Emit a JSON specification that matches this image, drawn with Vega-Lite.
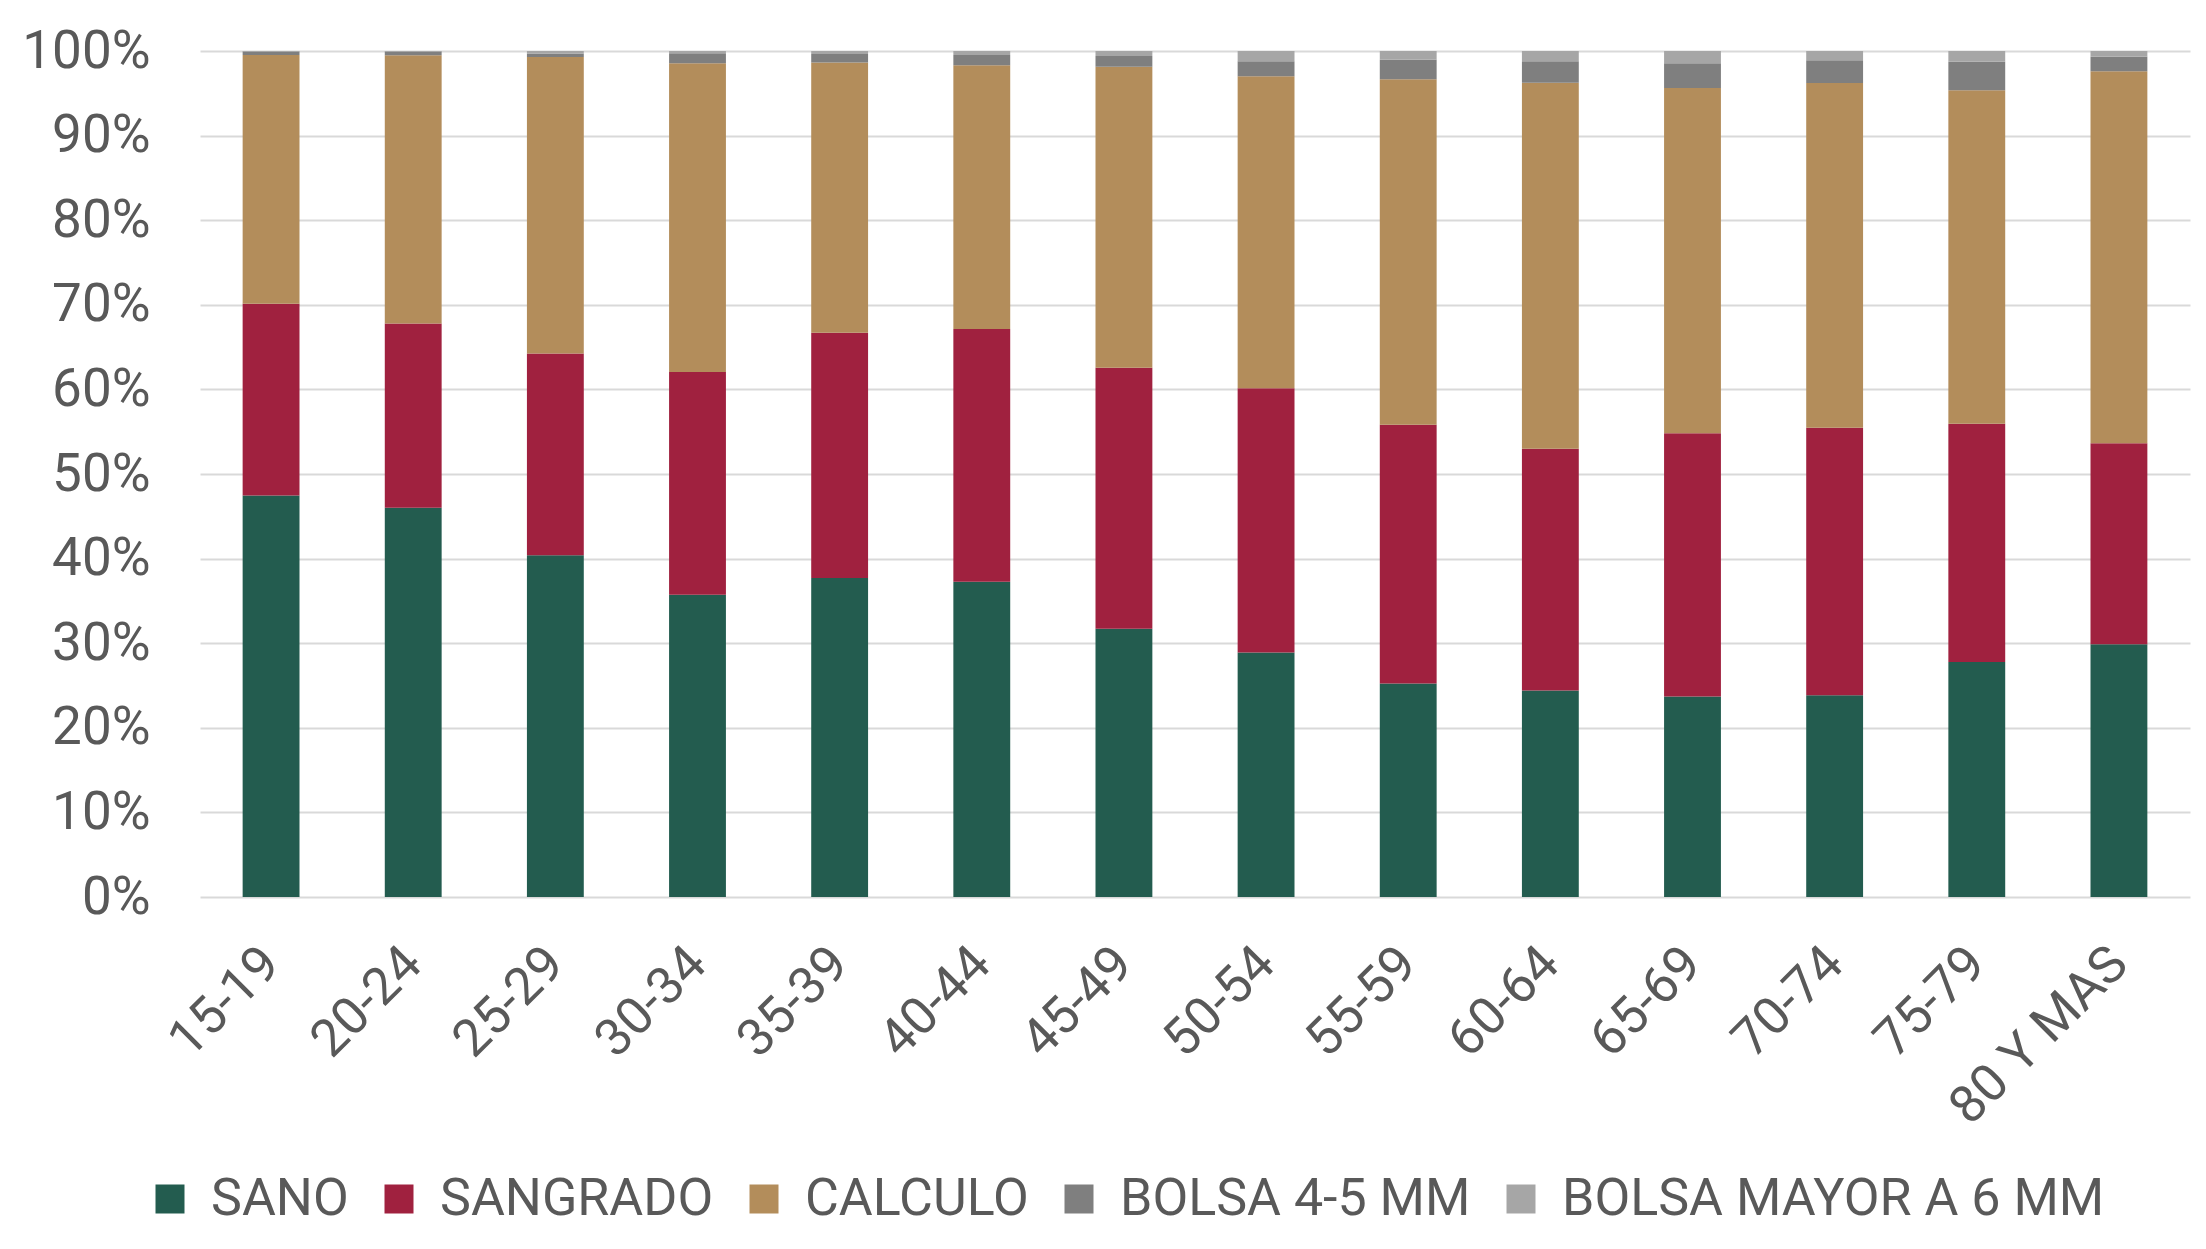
{
  "$schema": "https://vega.github.io/schema/vega-lite/v6.json",
  "width": 1990,
  "height": 846,
  "padding": {"left": 21, "top": 25, "right": 16, "bottom": 10},
  "background": "#ffffff",
  "data": {
    "values": [
      {"grupo": "15-19", "categoria": "SANO", "orden": 1, "valor": 47.45},
      {"grupo": "15-19", "categoria": "SANGRADO", "orden": 2, "valor": 22.68},
      {"grupo": "15-19", "categoria": "CALCULO", "orden": 3, "valor": 29.40},
      {"grupo": "15-19", "categoria": "BOLSA 4-5 MM", "orden": 4, "valor": 0.40},
      {"grupo": "15-19", "categoria": "BOLSA MAYOR A 6 MM", "orden": 5, "valor": 0.07},
      {"grupo": "20-24", "categoria": "SANO", "orden": 1, "valor": 46.0},
      {"grupo": "20-24", "categoria": "SANGRADO", "orden": 2, "valor": 21.8},
      {"grupo": "20-24", "categoria": "CALCULO", "orden": 3, "valor": 31.7},
      {"grupo": "20-24", "categoria": "BOLSA 4-5 MM", "orden": 4, "valor": 0.43},
      {"grupo": "20-24", "categoria": "BOLSA MAYOR A 6 MM", "orden": 5, "valor": 0.07},
      {"grupo": "25-29", "categoria": "SANO", "orden": 1, "valor": 40.4},
      {"grupo": "25-29", "categoria": "SANGRADO", "orden": 2, "valor": 23.85},
      {"grupo": "25-29", "categoria": "CALCULO", "orden": 3, "valor": 35.05},
      {"grupo": "25-29", "categoria": "BOLSA 4-5 MM", "orden": 4, "valor": 0.4},
      {"grupo": "25-29", "categoria": "BOLSA MAYOR A 6 MM", "orden": 5, "valor": 0.3},
      {"grupo": "30-34", "categoria": "SANO", "orden": 1, "valor": 35.73},
      {"grupo": "30-34", "categoria": "SANGRADO", "orden": 2, "valor": 26.33},
      {"grupo": "30-34", "categoria": "CALCULO", "orden": 3, "valor": 36.48},
      {"grupo": "30-34", "categoria": "BOLSA 4-5 MM", "orden": 4, "valor": 1.18},
      {"grupo": "30-34", "categoria": "BOLSA MAYOR A 6 MM", "orden": 5, "valor": 0.28},
      {"grupo": "35-39", "categoria": "SANO", "orden": 1, "valor": 37.70},
      {"grupo": "35-39", "categoria": "SANGRADO", "orden": 2, "valor": 29.0},
      {"grupo": "35-39", "categoria": "CALCULO", "orden": 3, "valor": 31.95},
      {"grupo": "35-39", "categoria": "BOLSA 4-5 MM", "orden": 4, "valor": 1.0},
      {"grupo": "35-39", "categoria": "BOLSA MAYOR A 6 MM", "orden": 5, "valor": 0.35},
      {"grupo": "40-44", "categoria": "SANO", "orden": 1, "valor": 37.26},
      {"grupo": "40-44", "categoria": "SANGRADO", "orden": 2, "valor": 29.88},
      {"grupo": "40-44", "categoria": "CALCULO", "orden": 3, "valor": 31.17},
      {"grupo": "40-44", "categoria": "BOLSA 4-5 MM", "orden": 4, "valor": 1.22},
      {"grupo": "40-44", "categoria": "BOLSA MAYOR A 6 MM", "orden": 5, "valor": 0.47},
      {"grupo": "45-49", "categoria": "SANO", "orden": 1, "valor": 31.72},
      {"grupo": "45-49", "categoria": "SANGRADO", "orden": 2, "valor": 30.85},
      {"grupo": "45-49", "categoria": "CALCULO", "orden": 3, "valor": 35.58},
      {"grupo": "45-49", "categoria": "BOLSA 4-5 MM", "orden": 4, "valor": 1.26},
      {"grupo": "45-49", "categoria": "BOLSA MAYOR A 6 MM", "orden": 5, "valor": 0.59},
      {"grupo": "50-54", "categoria": "SANO", "orden": 1, "valor": 28.89},
      {"grupo": "50-54", "categoria": "SANGRADO", "orden": 2, "valor": 31.24},
      {"grupo": "50-54", "categoria": "CALCULO", "orden": 3, "valor": 36.88},
      {"grupo": "50-54", "categoria": "BOLSA 4-5 MM", "orden": 4, "valor": 1.77},
      {"grupo": "50-54", "categoria": "BOLSA MAYOR A 6 MM", "orden": 5, "valor": 1.22},
      {"grupo": "55-59", "categoria": "SANO", "orden": 1, "valor": 25.24},
      {"grupo": "55-59", "categoria": "SANGRADO", "orden": 2, "valor": 30.59},
      {"grupo": "55-59", "categoria": "CALCULO", "orden": 3, "valor": 40.82},
      {"grupo": "55-59", "categoria": "BOLSA 4-5 MM", "orden": 4, "valor": 2.33},
      {"grupo": "55-59", "categoria": "BOLSA MAYOR A 6 MM", "orden": 5, "valor": 1.02},
      {"grupo": "60-64", "categoria": "SANO", "orden": 1, "valor": 24.41},
      {"grupo": "60-64", "categoria": "SANGRADO", "orden": 2, "valor": 28.58},
      {"grupo": "60-64", "categoria": "CALCULO", "orden": 3, "valor": 43.27},
      {"grupo": "60-64", "categoria": "BOLSA 4-5 MM", "orden": 4, "valor": 2.52},
      {"grupo": "60-64", "categoria": "BOLSA MAYOR A 6 MM", "orden": 5, "valor": 1.22},
      {"grupo": "65-69", "categoria": "SANO", "orden": 1, "valor": 23.70},
      {"grupo": "65-69", "categoria": "SANGRADO", "orden": 2, "valor": 31.11},
      {"grupo": "65-69", "categoria": "CALCULO", "orden": 3, "valor": 40.82},
      {"grupo": "65-69", "categoria": "BOLSA 4-5 MM", "orden": 4, "valor": 2.91},
      {"grupo": "65-69", "categoria": "BOLSA MAYOR A 6 MM", "orden": 5, "valor": 1.46},
      {"grupo": "70-74", "categoria": "SANO", "orden": 1, "valor": 23.86},
      {"grupo": "70-74", "categoria": "SANGRADO", "orden": 2, "valor": 31.62},
      {"grupo": "70-74", "categoria": "CALCULO", "orden": 3, "valor": 40.74},
      {"grupo": "70-74", "categoria": "BOLSA 4-5 MM", "orden": 4, "valor": 2.68},
      {"grupo": "70-74", "categoria": "BOLSA MAYOR A 6 MM", "orden": 5, "valor": 1.10},
      {"grupo": "75-79", "categoria": "SANO", "orden": 1, "valor": 27.79},
      {"grupo": "75-79", "categoria": "SANGRADO", "orden": 2, "valor": 28.16},
      {"grupo": "75-79", "categoria": "CALCULO", "orden": 3, "valor": 39.40},
      {"grupo": "75-79", "categoria": "BOLSA 4-5 MM", "orden": 4, "valor": 3.39},
      {"grupo": "75-79", "categoria": "BOLSA MAYOR A 6 MM", "orden": 5, "valor": 1.26},
      {"grupo": "80 Y MAS", "categoria": "SANO", "orden": 1, "valor": 29.87},
      {"grupo": "80 Y MAS", "categoria": "SANGRADO", "orden": 2, "valor": 23.75},
      {"grupo": "80 Y MAS", "categoria": "CALCULO", "orden": 3, "valor": 43.98},
      {"grupo": "80 Y MAS", "categoria": "BOLSA 4-5 MM", "orden": 4, "valor": 1.73},
      {"grupo": "80 Y MAS", "categoria": "BOLSA MAYOR A 6 MM", "orden": 5, "valor": 0.67}
    ]
  },
  "mark": {"type": "bar"},
  "encoding": {
    "x": {
      "field": "grupo",
      "type": "nominal",
      "sort": null,
      "scale": {"paddingInner": 0.6, "paddingOuter": 0.3},
      "axis": {
        "title": null,
        "labelAngle": -45,
        "labelAlign": "right",
        "labelBaseline": "middle",
        "labelPadding": 58,
        "labelFont": "Roboto",
        "labelFontSize": 52,
        "labelColor": "#595959",
        "labelLimit": 0,
        "ticks": false,
        "domain": false,
        "grid": false
      }
    },
    "y": {
      "field": "valor",
      "type": "quantitative",
      "stack": "normalize",
      "scale": {"domain": [0, 1]},
      "axis": {
        "title": null,
        "format": ".0%",
        "values": [0, 0.1, 0.2, 0.3, 0.4, 0.5, 0.6, 0.7, 0.8, 0.9, 1],
        "labelFont": "Roboto",
        "labelFontSize": 53,
        "labelColor": "#595959",
        "labelPadding": 50,
        "ticks": false,
        "domain": false,
        "grid": true,
        "gridColor": "#d9d9d9",
        "gridWidth": 2
      }
    },
    "order": {"field": "orden", "type": "quantitative", "sort": "ascending"},
    "color": {
      "field": "categoria",
      "type": "nominal",
      "sort": ["SANO", "SANGRADO", "CALCULO", "BOLSA 4-5 MM", "BOLSA MAYOR A 6 MM"],
      "scale": {
        "domain": ["SANO", "SANGRADO", "CALCULO", "BOLSA 4-5 MM", "BOLSA MAYOR A 6 MM"],
        "range": ["#235c4f", "#a0213f", "#b38d5b", "#7f7f7f", "#a6a6a6"]
      },
      "legend": {
        "title": null,
        "orient": "none",
        "legendX": -56,
        "legendY": 1122,
        "direction": "horizontal",
        "columns": 5,
        "symbolType": "square",
        "symbolSize": 841,
        "symbolStrokeWidth": 0,
        "labelFont": "Roboto",
        "labelFontSize": 52,
        "labelColor": "#595959",
        "labelOffset": 15,
        "columnPadding": 24,
        "labelLimit": 0
      }
    }
  },
  "config": {
    "view": {"stroke": null}
  }
}
